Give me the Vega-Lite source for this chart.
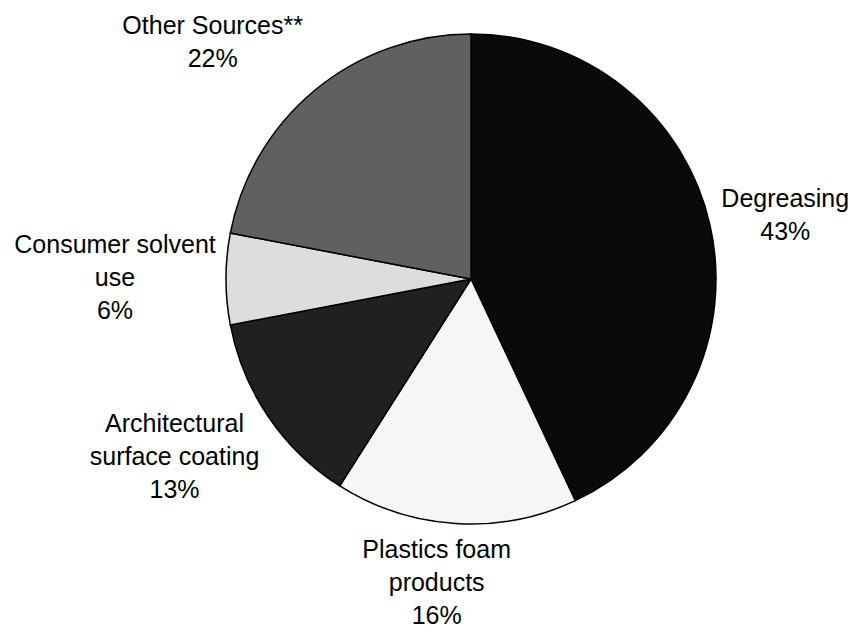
{
  "$schema": "https://vega.github.io/schema/vega-lite/v6.json",
  "width": 766,
  "height": 558,
  "autosize": {"type": "none"},
  "padding": {"left": 88, "top": 0, "right": 0, "bottom": 73},
  "background": "white",
  "view": {"stroke": null},
  "config": {
    "text": {"font": "Liberation Sans", "fontSize": 25, "lineHeight": 33, "lineBreak": "\n", "align": "center", "baseline": "middle", "color": "#000000"}
  },
  "data": {
    "values": [
      {"source": "Degreasing", "share": 43, "idx": 1, "label": "Degreasing\n43%"},
      {"source": "Plastics foam products", "share": 16, "idx": 2, "label": "Plastics foam\nproducts\n16%"},
      {"source": "Architectural surface coating", "share": 13, "idx": 3, "label": "Architectural\nsurface coating\n13%"},
      {"source": "Consumer solvent use", "share": 6, "idx": 4, "label": "Consumer solvent\nuse\n6%"},
      {"source": "Other Sources**", "share": 22, "idx": 5, "label": "Other Sources**\n22%"}
    ]
  },
  "encoding": {
    "theta": {"field": "share", "type": "quantitative", "stack": true},
    "order": {"field": "idx", "type": "quantitative"}
  },
  "layer": [
    {
      "mark": {"type": "arc", "outerRadius": 245, "stroke": "#000000", "strokeWidth": 1.5},
      "encoding": {
        "color": {
          "field": "source",
          "type": "nominal",
          "scale": {
            "domain": ["Degreasing", "Plastics foam products", "Architectural surface coating", "Consumer solvent use", "Other Sources**"],
            "range": ["#0a0a0a", "#f6f6f6", "#202020", "#dddddd", "#606060"]
          },
          "legend": null
        }
      }
    },
    {
      "mark": {"type": "text", "radius": 322, "dy": -10},
      "encoding": {"text": {"condition": {"test": "datum.idx == 1", "field": "label"}, "value": ""}}
    },
    {
      "mark": {"type": "text", "radius": 276, "dx": -17, "dy": -4},
      "encoding": {"text": {"condition": {"test": "datum.idx == 2", "field": "label"}, "value": ""}}
    },
    {
      "mark": {"type": "text", "radius": 350, "dx": -7, "dy": -52},
      "encoding": {"text": {"condition": {"test": "datum.idx == 3", "field": "label"}, "value": ""}}
    },
    {
      "mark": {"type": "text", "radius": 356, "dy": -34},
      "encoding": {"text": {"condition": {"test": "datum.idx == 4", "field": "label"}, "value": ""}}
    },
    {
      "mark": {"type": "text", "radius": 330, "dx": -48, "dy": 1},
      "encoding": {"text": {"condition": {"test": "datum.idx == 5", "field": "label"}, "value": ""}}
    }
  ]
}
